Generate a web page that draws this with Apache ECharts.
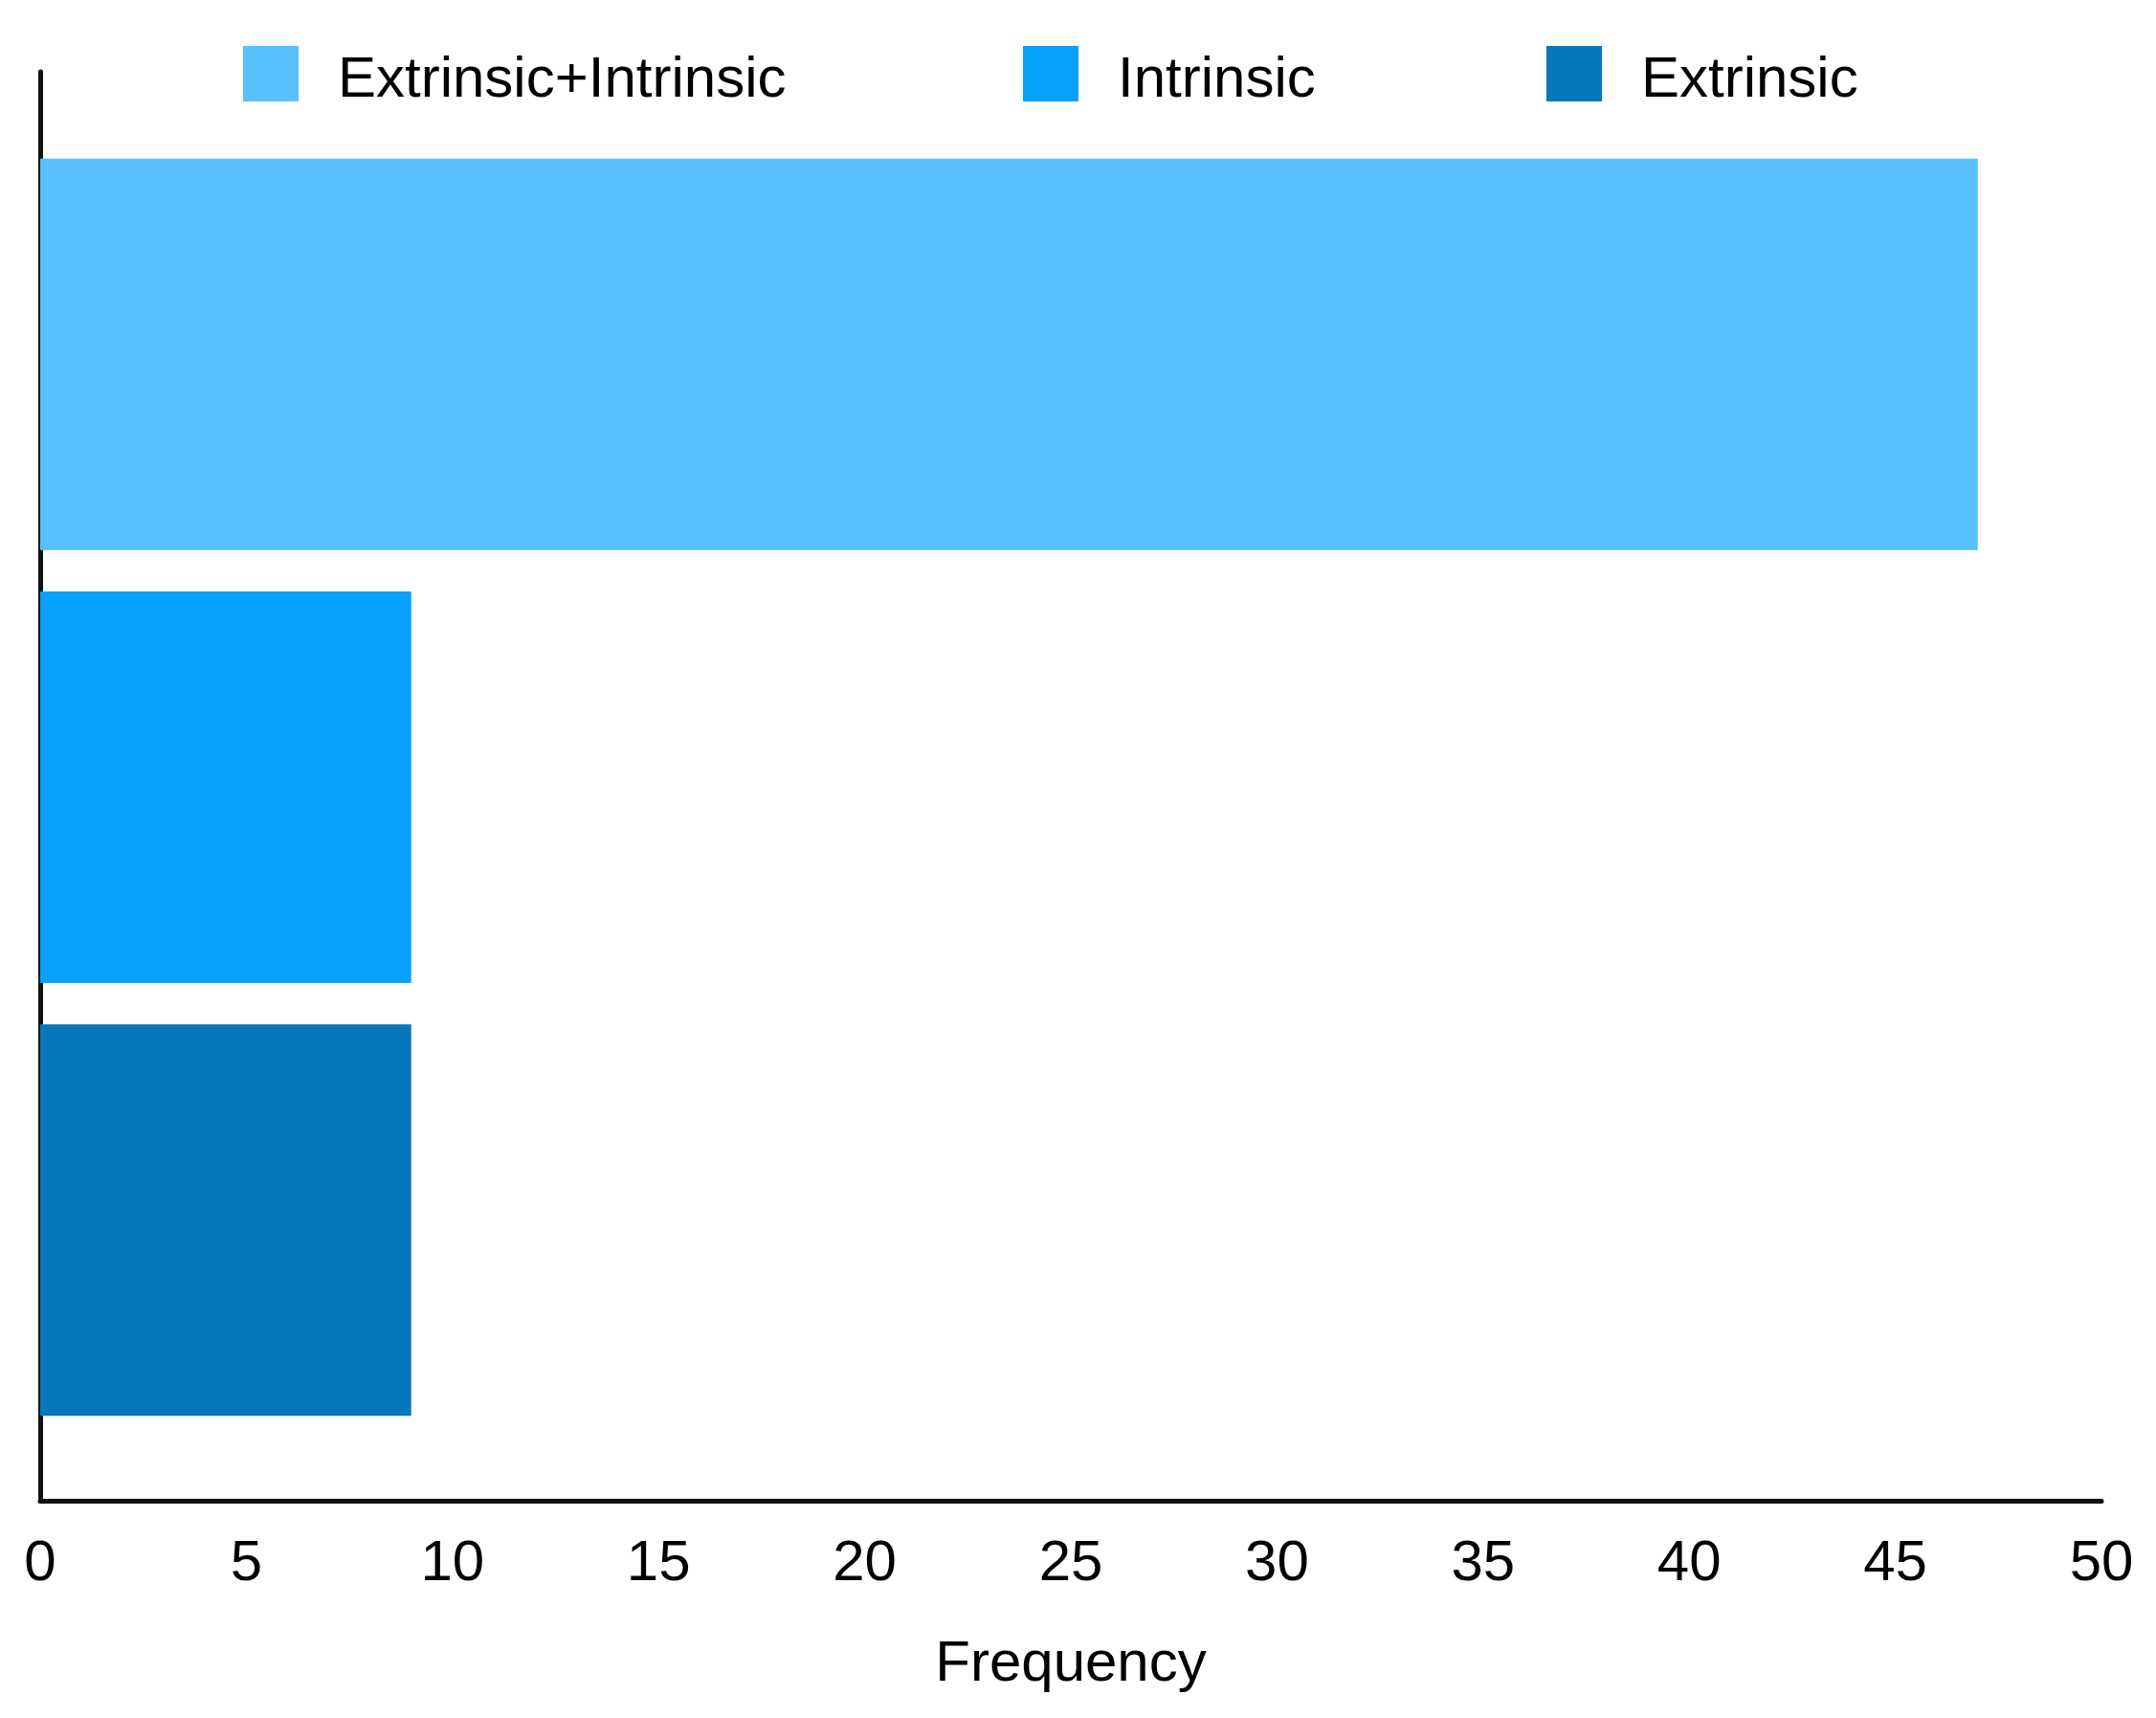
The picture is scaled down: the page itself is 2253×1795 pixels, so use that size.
<!DOCTYPE html>
<html>
<head>
<meta charset="utf-8">
<script src="https://cdn.jsdelivr.net/npm/echarts@6/dist/echarts.min.js"></script>
<style>
html, body { margin: 0; padding: 0; background: #fff; }
#main { width: 2253px; height: 1795px; }
</style>
</head>
<body>
<div id="main"></div>
<script>
// data
var categories = ['Extrinsic+Intrinsic', 'Intrinsic', 'Extrinsic'];
var frequency = [47, 9, 9];
var xTicks = [0, 50, 5]; // min, max, step
var colors = ['#56C1FC', '#08A1FC', '#0776BA'];

var chart = echarts.init(document.getElementById('main'));
var font = 'Liberation Sans';

// one series per category so each gets its own legend entry
var series = categories.map(function (name, i) {
    var d = categories.map(function (c, j) { return j === i ? frequency[i] : null; });
    return {
        name: name,
        type: 'bar',
        stack: 'all',
        xAxisIndex: 1,
        yAxisIndex: 1,
        barWidth: 409,
        itemStyle: { color: colors[i] },
        data: d
    };
});

var legendLeft = [254, 1069, 1616];
var legends = categories.map(function (name, i) {
    return {
        data: [name],
        left: legendLeft[i],
        top: 48,
        padding: 0,
        itemWidth: 58,
        itemHeight: 58,
        icon: 'rect',
        selectedMode: false,
        formatter: '{a|{name}}',
        textStyle: {
            fontFamily: font, fontSize: 60, color: '#000',
            rich: { a: { fontFamily: font, fontSize: 60, color: '#000', padding: [14, 0, 0, 36] } }
        }
    };
});

option = {
    animation: false,
    backgroundColor: '#fff',
    legend: legends,
    grid: [
        // frame with the axes
        { left: 42, right: 57, top: 75, bottom: 227 },
        // bar area
        { left: 42, right: 57, top: 144, bottom: 294 }
    ],
    xAxis: [
        {
            gridIndex: 0,
            type: 'value',
            min: xTicks[0],
            max: xTicks[1],
            interval: xTicks[2],
            name: 'Frequency',
            nameLocation: 'middle',
            nameGap: 141,
            nameTextStyle: { fontFamily: font, fontSize: 60, color: '#000' },
            axisLine: { show: true, lineStyle: { color: '#111', width: 5 } },
            axisTick: { show: false },
            splitLine: { show: false },
            axisLabel: { fontFamily: font, fontSize: 60, color: '#000', margin: 36 }
        },
        { gridIndex: 1, type: 'value', min: xTicks[0], max: xTicks[1], show: false }
    ],
    yAxis: [
        {
            gridIndex: 0,
            type: 'category',
            data: [''],
            axisLine: { show: true, lineStyle: { color: '#111', width: 5 } },
            axisTick: { show: false },
            axisLabel: { show: false }
        },
        { gridIndex: 1, type: 'category', inverse: true, data: categories, show: false }
    ],
    series: series
};

chart.setOption(option);
</script>
</body>
</html>
